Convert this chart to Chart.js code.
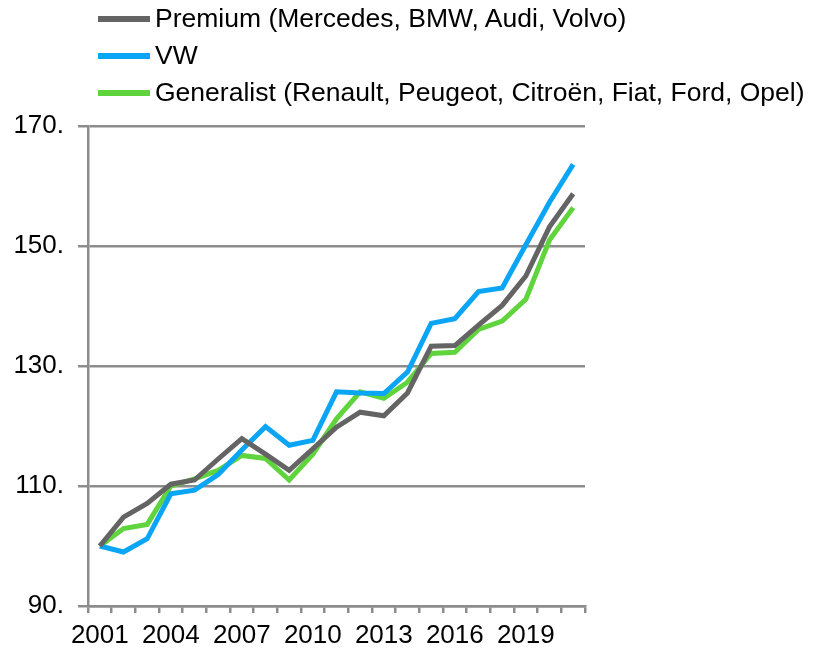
<!DOCTYPE html>
<html>
<head>
<meta charset="UTF-8">
<title>Index 2001 = 100</title>
<script src="https://cdn.jsdelivr.net/npm/chart.js"></script>
<style>
  body { margin: 0; background: #fff; }
  #wrap { position: relative; width: 816px; height: 652px; }
  #legend { position: absolute; left: 98px; top: 0; font-family: "Liberation Sans", Arial, sans-serif; font-size: 26.5px; color: #000; }
  #legend .row { display: flex; align-items: center; height: 37px; }
  #legend .sw { width: 52px; height: 6px; margin-right: 5px; }
</style>
</head>
<body>
<div id="wrap">
  <canvas id="chart" width="816" height="652"></canvas>
  <div id="legend"></div>
</div>
<script>
const years = ['2001','2002','2003','2004','2005','2006','2007','2008','2009','2010','2011',
               '2012','2013','2014','2015','2016','2017','2018','2019','2020','2021'];
const premium = [100, 104.8, 107.1, 110.3, 111.0, 114.5, 117.9, 115.3, 112.6, 116.2, 119.8,
                 122.3, 121.7, 125.5, 133.3, 133.4, 136.8, 140.1, 145.0, 153.2, 158.7];
const vw = [100, 99.0, 101.2, 108.7, 109.3, 111.9, 116.0, 119.9, 116.8, 117.6, 125.7,
            125.5, 125.4, 129.0, 137.1, 137.9, 142.4, 143.0, 150.2, 157.3, 163.6];
const generalist = [100, 102.9, 103.6, 110.0, 111.2, 112.6, 115.1, 114.6, 111.0, 115.3, 121.2,
                    125.7, 124.6, 127.3, 132.1, 132.3, 136.1, 137.5, 141.1, 151.0, 156.4];
const yTicks = [90, 110, 130, 150, 170];

const seriesNames = ['Premium (Mercedes, BMW, Audi, Volvo)', 'VW', 'Generalist (Renault, Peugeot, Citroën, Fiat, Ford, Opel)'];
const seriesColors = ['#646464', '#0aa5f5', '#5fd43c'];
const seriesData = [premium, vw, generalist];

const gridColor = '#8c8c8c';
const font = { family: '"Liberation Sans", Arial, sans-serif', size: 26 };

const chart = new Chart(document.getElementById('chart'), {
  type: 'line',
  data: {
    labels: years,
    datasets: seriesData.map((d, i) => ({
      label: seriesNames[i],
      data: d,
      borderColor: seriesColors[i],
      backgroundColor: seriesColors[i],
      borderWidth: 5,
      pointRadius: 0,
      tension: 0
    }))
  },
  options: {
    responsive: false,
    animation: false,
    layout: { padding: { top: 126, right: 231, left: 0, bottom: 0 } },
    plugins: { legend: { display: false }, tooltip: { enabled: false } },
    scales: {
      x: {
        offset: true,
        grid: { offset: true, drawOnChartArea: false, color: gridColor, lineWidth: 2.5, tickLength: 7 },
        border: { color: gridColor, width: 2.5 },
        ticks: {
          autoSkip: false, maxRotation: 0, color: '#000', font: font, padding: 7,
          callback: (v, i) => (i % 3 === 0 ? years[i] : '')
        },
        afterFit: s => { s.height = 46; }
      },
      y: {
        min: 90, max: 170,
        afterBuildTicks: s => { s.ticks = yTicks.map(v => ({ value: v })); },
        grid: { color: gridColor, lineWidth: 2.5, tickLength: 10 },
        border: { color: gridColor, width: 2.5 },
        ticks: { color: '#000', font: font, padding: 14, callback: v => v + '.' },
        afterFit: s => { s.width = 88; }
      }
    }
  }
});

const legend = document.getElementById('legend');
chart.data.datasets.forEach(ds => {
  const row = document.createElement('div');
  row.className = 'row';
  const sw = document.createElement('div');
  sw.className = 'sw';
  sw.style.background = ds.borderColor;
  const txt = document.createElement('span');
  txt.textContent = ds.label;
  row.appendChild(sw);
  row.appendChild(txt);
  legend.appendChild(row);
});
</script>
</body>
</html>
